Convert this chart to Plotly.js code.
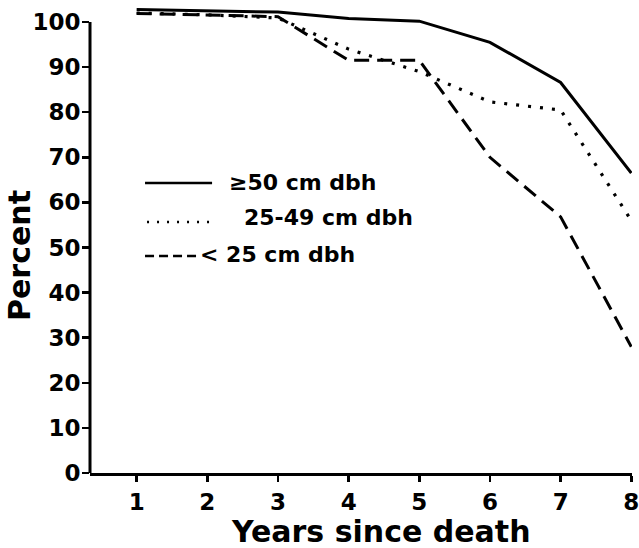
<!DOCTYPE html>
<html><head><meta charset="utf-8">
<script src="https://cdn.plot.ly/plotly-3.0.1.min.js"></script>
<style>html,body{margin:0;padding:0;background:#fff}</style>
</head><body>
<div id="chart" style="width:639px;height:548px"></div>
<script>
const years = [1, 2, 3, 4, 5, 6, 7, 8];
const large = [102.8, 102.5, 102.2, 100.8, 100.2, 95.5, 86.6, 66.5];
const medium = [102, 101.6, 100.9, 94, 89, 82.3, 80.5, 56];
const small = [101.9, 101.6, 101.2, 91.5, 91.5, 70, 56.8, 28];
const seriesNames = ['\u226550 cm dbh', '25-49 cm dbh', '< 25 cm dbh'];
const yTicks = [0, 10, 20, 30, 40, 50, 60, 70, 80, 90, 100];

const W = 639, H = 548, L = 90, R = 7.3, T = 4, B = 75;
const pw = W - L - R, ph = H - T - B;
const px = x => (x - L) / pw;
const py = y => (H - B - y) / ph;
const F = {family: 'DejaVu Sans', color: '#000', weight: 'bold'};

const styles = [
  {color: '#000', width: 3, dash: 'solid'},
  {color: '#000', width: 3.2, dash: '3px,9px'},
  {color: '#000', width: 3, dash: '15px,8px'}
];
const vals = [large, medium, small];
const traces = vals.map((v, i) => ({
  x: years, y: v, type: 'scatter', mode: 'lines', name: seriesNames[i],
  line: styles[i], showlegend: false, hoverinfo: 'skip'
}));

// manual legend
const legRows = [
  {x0: 145, x1: 212, y: 183, tx: 227, ty: 183, w: 2.5, dash: 'solid'},
  {x0: 147, x1: 212, y: 222, tx: 242, ty: 218, w: 2.5, dash: '2px,8px'},
  {x0: 145, x1: 197, y: 256, tx: 198, ty: 254, w: 2.5, dash: '9px,5px'}
];
const shapes = [
  {type: 'line', xref: 'paper', yref: 'y', x0: 0, x1: 0, y0: -0.3, y1: 100,
   line: {color: '#000', width: 3}}
];
const annotations = [];
legRows.forEach((r, i) => {
  shapes.push({type: 'line', xref: 'paper', yref: 'paper', x0: px(r.x0), x1: px(r.x1),
    y0: py(r.y), y1: py(r.y), line: {color: '#000', width: r.w, dash: r.dash}});
  annotations.push({xref: 'paper', yref: 'paper', x: px(r.tx), y: py(r.ty),
    xanchor: 'left', yanchor: 'middle', showarrow: false, text: seriesNames[i],
    font: Object.assign({}, F, {size: 22})});
});
annotations.push({xref: 'paper', yref: 'paper', x: px(381), y: py(531), xanchor: 'center',
  yanchor: 'middle', showarrow: false, text: 'Years since death',
  font: Object.assign({}, F, {size: 30})});
annotations.push({xref: 'paper', yref: 'paper', x: px(19), y: py(255), xanchor: 'center',
  yanchor: 'middle', showarrow: false, text: 'Percent', textangle: -90,
  font: Object.assign({}, F, {size: 30})});

const layout = {
  width: W, height: H,
  margin: {l: L, r: R, t: T, b: B, pad: 0},
  paper_bgcolor: '#fff', plot_bgcolor: '#fff',
  showlegend: false,
  xaxis: {
    range: [0.34, 8.01], tickvals: years, ticktext: years.map(String),
    ticks: 'outside', ticklen: 6, tickwidth: 2.5, tickcolor: '#000',
    ticklabeloverflow: 'allow',
    showline: true, linewidth: 3, linecolor: '#000',
    showgrid: false, zeroline: false,
    tickfont: Object.assign({}, F, {size: 23})
  },
  yaxis: {
    range: [0, 104], tickvals: yTicks, ticktext: yTicks.map(String),
    ticks: 'outside', ticklen: 7, tickwidth: 2.5, tickcolor: '#000',
    ticklabelstandoff: -3,
    showline: false, showgrid: false, zeroline: false,
    tickfont: Object.assign({}, F, {size: 23})
  },
  shapes: shapes,
  annotations: annotations
};
Plotly.newPlot('chart', traces, layout, {displayModeBar: false, staticPlot: true});
</script>
</body></html>
